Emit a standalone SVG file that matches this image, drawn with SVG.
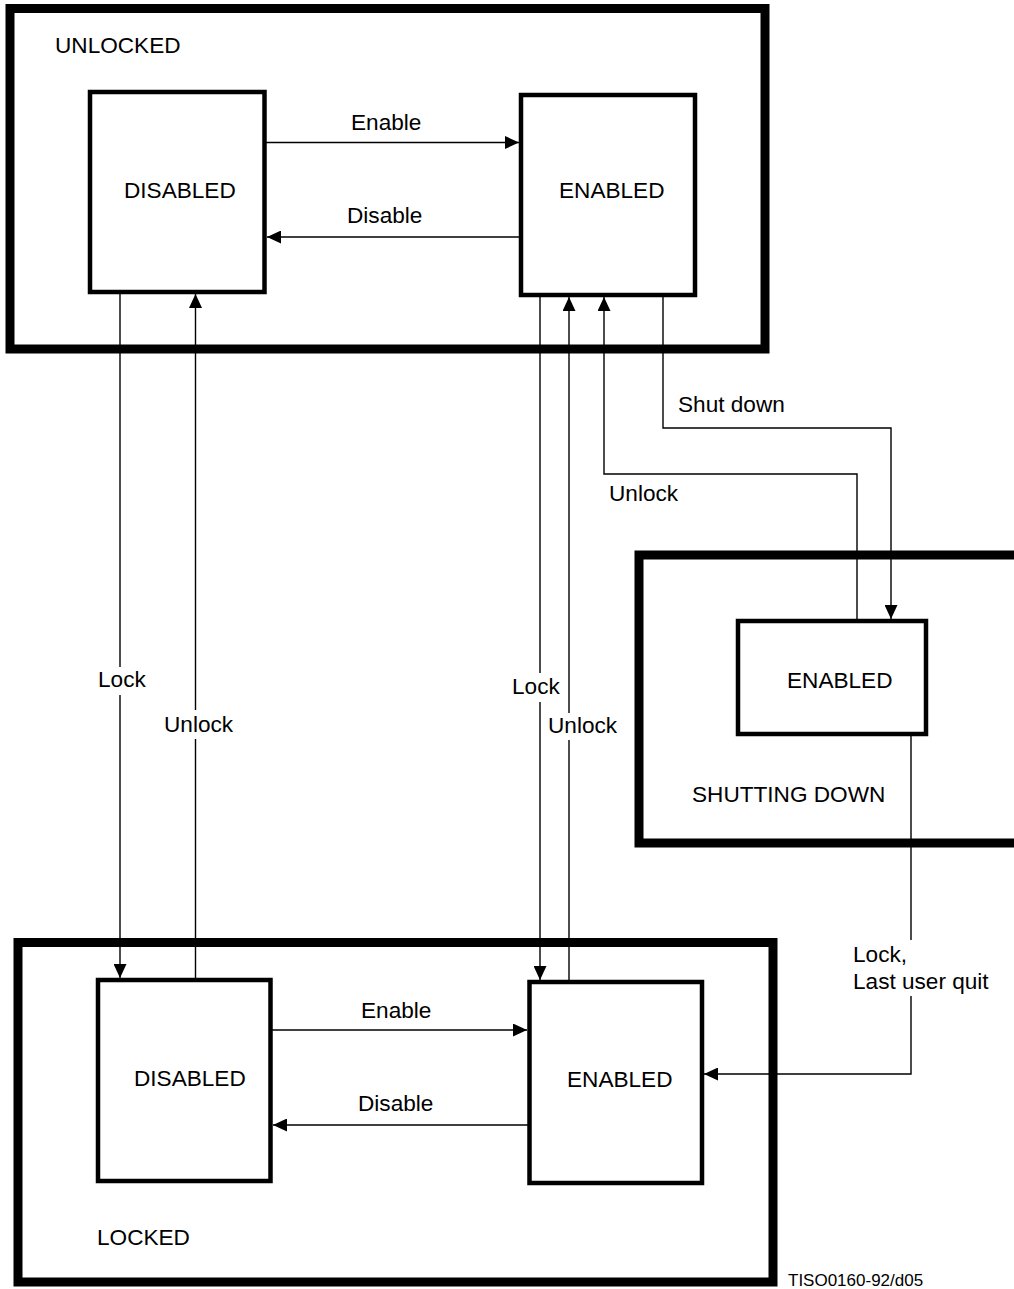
<svg xmlns="http://www.w3.org/2000/svg" width="1014" height="1289" viewBox="0 0 1014 1289">
<style>
text{font-family:"Liberation Sans",Arial,sans-serif;font-size:22.6px;fill:#000}
.outer{fill:none;stroke:#000;stroke-width:9}
.state{fill:#fff;stroke:#000;stroke-width:4.5}
.conn{fill:none;stroke:#000;stroke-width:1.4}
.gap{fill:#fff;stroke:none}
</style>
<defs>
<marker id="ah" markerUnits="userSpaceOnUse" markerWidth="15" markerHeight="13" refX="14" refY="6.5" orient="auto">
<path d="M0,0 L14,6.5 L0,13 z" fill="#000"/>
</marker>
</defs>
<rect width="1014" height="1289" fill="#fff"/>
<g id="unlocked">
<rect class="outer" x="10" y="8.5" width="755" height="340.5"/>
<text x="55" y="53">UNLOCKED</text>
</g>
<g id="locked">
<rect class="outer" x="18" y="942.5" width="755" height="339.5"/>
<text x="97" y="1245">LOCKED</text>
</g>
<g id="shutting-down">
<rect class="outer" x="639" y="555" width="420" height="288"/>
<text x="692" y="802">SHUTTING DOWN</text>
</g>
<g id="connectors">
<line class="conn" x1="266" y1="142.5" x2="519" y2="142.5" marker-end="url(#ah)"/>
<line class="conn" x1="519" y1="237" x2="267" y2="237" marker-end="url(#ah)"/>
<line class="conn" x1="120" y1="294" x2="120" y2="978" marker-end="url(#ah)"/>
<line class="conn" x1="195.5" y1="978" x2="195.5" y2="294" marker-end="url(#ah)"/>
<line class="conn" x1="540" y1="297" x2="540" y2="980" marker-end="url(#ah)"/>
<line class="conn" x1="569" y1="980" x2="569" y2="297" marker-end="url(#ah)"/>
<polyline class="conn" points="857,619 857,474 604,474 604,297" marker-end="url(#ah)"/>
<polyline class="conn" points="663,297 663,428 891,428 891,619" marker-end="url(#ah)"/>
<polyline class="conn" points="911,736 911,1074 704,1074" marker-end="url(#ah)"/>
<line class="conn" x1="272" y1="1030" x2="527" y2="1030" marker-end="url(#ah)"/>
<line class="conn" x1="528" y1="1125" x2="273" y2="1125" marker-end="url(#ah)"/>
<rect class="gap" x="96" y="667" width="52" height="28"/>
<rect class="gap" x="162" y="710" width="71" height="29"/>
<rect class="gap" x="510" y="673" width="50" height="29"/>
<rect class="gap" x="546" y="713" width="71" height="27"/>
<rect class="gap" x="850" y="940" width="145" height="56"/>
<text x="351" y="130">Enable</text>
<text x="347" y="223">Disable</text>
<text x="678" y="412">Shut down</text>
<text x="609" y="501">Unlock</text>
<text x="98" y="687">Lock</text>
<text x="164" y="732">Unlock</text>
<text x="512" y="694">Lock</text>
<text x="548" y="733">Unlock</text>
<text x="853" y="962">Lock,</text>
<text x="853" y="989">Last user quit</text>
<text x="361" y="1018">Enable</text>
<text x="358" y="1111">Disable</text>
</g>
<g id="unlocked-disabled">
<rect class="state" x="90" y="92" width="174.5" height="200"/>
<text x="124" y="198">DISABLED</text>
</g>
<g id="unlocked-enabled">
<rect class="state" x="521" y="95" width="174" height="200"/>
<text x="559" y="198">ENABLED</text>
</g>
<g id="shutting-enabled">
<rect class="state" x="738" y="621" width="188" height="113"/>
<text x="787" y="688">ENABLED</text>
</g>
<g id="locked-disabled">
<rect class="state" x="98" y="980" width="172.5" height="201"/>
<text x="134" y="1086">DISABLED</text>
</g>
<g id="locked-enabled">
<rect class="state" x="529.5" y="982" width="172.5" height="201"/>
<text x="567" y="1087">ENABLED</text>
</g>
<g id="footer">
<text x="788" y="1286" style="font-size:17px">TISO0160-92/d05</text>
</g>
</svg>
